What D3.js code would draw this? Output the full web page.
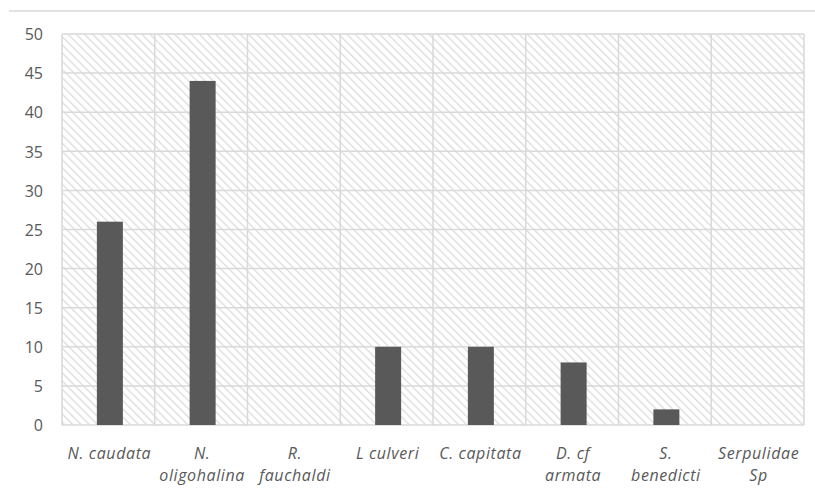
<!DOCTYPE html>
<html>
<head>
<meta charset="utf-8">
<script src="https://cdn.jsdelivr.net/npm/d3@7"></script>
<style>
  html, body { margin: 0; padding: 0; background: #fff; }
  svg { display: block; }
</style>
</head>
<body>
<svg id="chart" width="815" height="500"></svg>
<script>
// Species counts
const species = [
  ["N. caudata"],
  ["N.", "oligohalina"],
  ["R.", "fauchaldi"],
  ["L culveri"],
  ["C. capitata"],
  ["D. cf", "armata"],
  ["S.", "benedicti"],
  ["Serpulidae", "Sp"]
];
const counts = [26, 44, 0, 10, 10, 8, 2, 0];
const yTicks = [0, 5, 10, 15, 20, 25, 30, 35, 40, 45, 50];

const W = 815, H = 500;
const margin = { top: 34, right: 11, bottom: 75, left: 62 };
const svg = d3.select("#chart");
const fontFam = "'Open Sans', 'DejaVu Sans', sans-serif";
const textColor = "#595959";
const gridColor = "#d9d9d9";

// Diagonal hatch for the plot background
const defs = svg.append("defs");
const pat = defs.append("pattern")
  .attr("id", "hatch")
  .attr("patternUnits", "userSpaceOnUse")
  .attr("width", 5.8).attr("height", 5.8)
  .attr("patternTransform", "rotate(-45)");
pat.append("rect").attr("width", 5.8).attr("height", 5.8).attr("fill", "#fff");
pat.append("line")
  .attr("x1", 0).attr("y1", 0).attr("x2", 0).attr("y2", 5.8)
  .attr("stroke", "#dcdcdc").attr("stroke-width", 2.6);

// Thin rule across the top
svg.append("line")
  .attr("x1", 9).attr("x2", W).attr("y1", 11).attr("y2", 11)
  .attr("stroke", gridColor).attr("stroke-width", 1.5);

const x = d3.scaleBand()
  .domain(d3.range(species.length))
  .range([margin.left, W - margin.right])
  .paddingInner(0).paddingOuter(0);
const y = d3.scaleLinear()
  .domain([0, 50])
  .range([H - margin.bottom, margin.top]);

// Hatched plot area
svg.append("rect")
  .attr("x", x.range()[0]).attr("y", y(50))
  .attr("width", x.range()[1] - x.range()[0])
  .attr("height", y(0) - y(50))
  .attr("fill", "url(#hatch)");

// Horizontal gridlines
svg.append("g").selectAll("line")
  .data(yTicks)
  .join("line")
  .attr("x1", x.range()[0]).attr("x2", x.range()[1])
  .attr("y1", d => y(d)).attr("y2", d => y(d))
  .attr("stroke", gridColor).attr("stroke-width", 1.5);

// Vertical gridlines at category boundaries
const bounds = d3.range(species.length + 1).map(i => x.range()[0] + i * x.bandwidth());
svg.append("g").selectAll("line")
  .data(bounds)
  .join("line")
  .attr("x1", d => d).attr("x2", d => d)
  .attr("y1", y(50)).attr("y2", y(0))
  .attr("stroke", gridColor).attr("stroke-width", 1.5);

// Bars
const barW = 26;
svg.append("g").selectAll("rect")
  .data(counts)
  .join("rect")
  .attr("x", (d, i) => x(i) + x.bandwidth() / 2 - barW / 2 + 1.5)
  .attr("y", d => y(d))
  .attr("width", barW)
  .attr("height", d => y(0) - y(d))
  .attr("fill", "#595959");

// Y axis labels
const yAxis = d3.axisLeft(y).tickValues(yTicks).tickSize(0).tickPadding(0);
const gy = svg.append("g")
  .attr("transform", `translate(${margin.left - 19},0)`)
  .call(yAxis);
gy.select(".domain").remove();
gy.selectAll("text")
  .attr("fill", textColor)
  .attr("font-family", fontFam)
  .attr("font-size", 16)
  .attr("dy", "0.36em");

// Category labels
const gx = svg.append("g");
species.forEach((lines, i) => {
  const cx = x(i) + x.bandwidth() / 2 + 1;
  const t = gx.append("text")
    .attr("x", cx)
    .attr("y", 459)
    .attr("text-anchor", "middle")
    .attr("fill", textColor)
    .attr("font-family", fontFam)
    .attr("font-size", 16)
    .attr("letter-spacing", 0.6)
    .attr("font-style", "italic");
  lines.forEach((ln, j) => {
    t.append("tspan")
      .attr("x", cx)
      .attr("dy", j === 0 ? 0 : 22)
      .text(ln);
  });
});
</script>
</body>
</html>
